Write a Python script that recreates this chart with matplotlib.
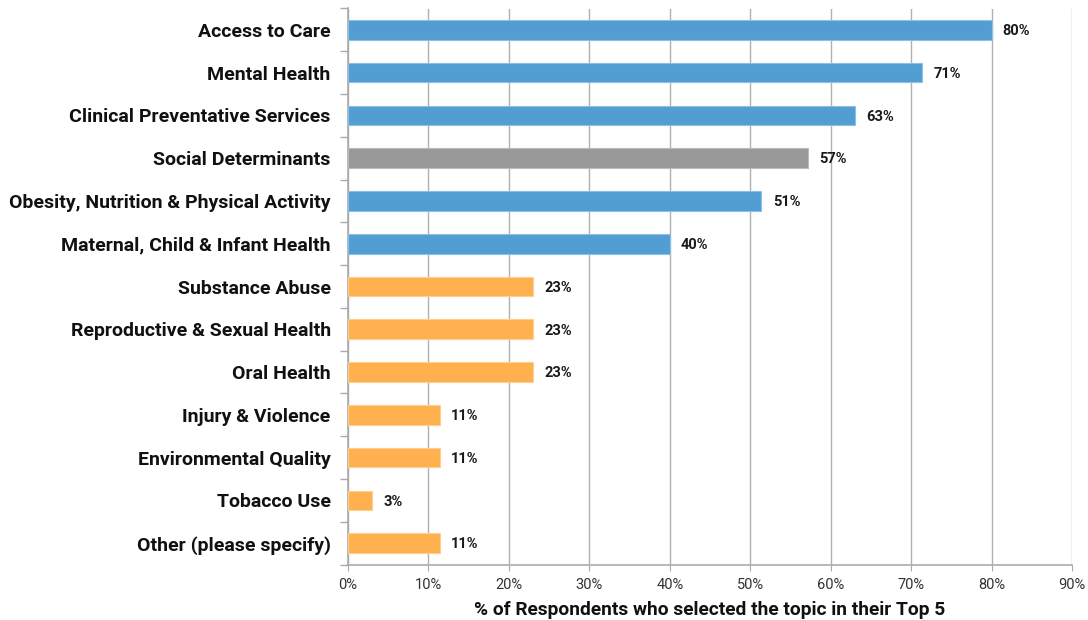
import matplotlib
matplotlib.use("Agg")
import matplotlib.pyplot as plt
from matplotlib.ticker import FixedLocator

plt.rcParams['font.family'] = ['Roboto', 'DejaVu Sans']

topics = [
    "Access to Care",
    "Mental Health",
    "Clinical Preventative Services",
    "Social Determinants",
    "Obesity, Nutrition & Physical Activity",
    "Maternal, Child & Infant Health",
    "Substance Abuse",
    "Reproductive & Sexual Health",
    "Oral Health",
    "Injury & Violence",
    "Environmental Quality",
    "Tobacco Use",
    "Other (please specify)",
]
values = [80, 71.4, 63, 57.2, 51.4, 40, 23, 23, 23, 11.4, 11.4, 3, 11.4]
value_labels = ["80%", "71%", "63%", "57%", "51%", "40%", "23%", "23%",
                "23%", "11%", "11%", "3%", "11%"]
groups = ["blue"] * 3 + ["gray"] + ["blue"] * 2 + ["orange"] * 7
x_ticks = [0, 10, 20, 30, 40, 50, 60, 70, 80, 90]

palette = {"blue": "#529ED2", "gray": "#999999", "orange": "#FFB150"}
edges = {"blue": "#8CC0E6", "gray": "#BBBBBB", "orange": "#FFCF90"}


def main():
    fig = plt.figure(figsize=(10.88, 6.2), dpi=100)
    ax = fig.add_axes([348 / 1088, 1 - 564.5 / 620, 724 / 1088, 556 / 620])

    ypos = list(range(len(topics)))
    ax.barh(ypos, values, height=0.46,
            color=[palette[g] for g in groups],
            edgecolor=[edges[g] for g in groups], linewidth=0.8, zorder=3)

    for y, v, lab in zip(ypos, values, value_labels):
        ax.text(v + 1.4, y + 0.03, lab, va="center", ha="left", fontsize=10.5,
                fontweight="bold", color="#1a1a1a")

    ax.set_ylim(len(topics) - 0.5, -0.5)
    ax.set_xlim(0, 90)
    ax.set_xticks(x_ticks)
    ax.set_xticklabels([f"{t}%" for t in x_ticks], fontsize=10.5, color="#333333")

    ax.set_yticks(ypos)
    ax.set_yticklabels(topics, fontsize=14, fontweight="bold", color="#111111")
    ax.tick_params(axis="y", which="major", length=0, pad=12.5)
    # tick marks between the categories
    ax.yaxis.set_minor_locator(FixedLocator([i - 0.5 for i in range(len(topics) + 1)]))
    ax.tick_params(axis="y", which="minor", length=6, color="#aaaaaa", width=1)
    ax.tick_params(axis="x", length=4, color="#aaaaaa", pad=6)

    ax.grid(axis="x", color="#b0b0b0", linewidth=1, zorder=0)
    for side in ["top", "right"]:
        ax.spines[side].set_visible(False)
    for side in ["left", "bottom"]:
        ax.spines[side].set_color("#aaaaaa")
        ax.spines[side].set_linewidth(1.2)

    ax.set_xlabel("% of Respondents who selected the topic in their Top 5",
                  fontsize=13.8, fontweight="bold", color="#111111", labelpad=6)

    fig.savefig("out.png", dpi=100)


if __name__ == "__main__":
    main()
